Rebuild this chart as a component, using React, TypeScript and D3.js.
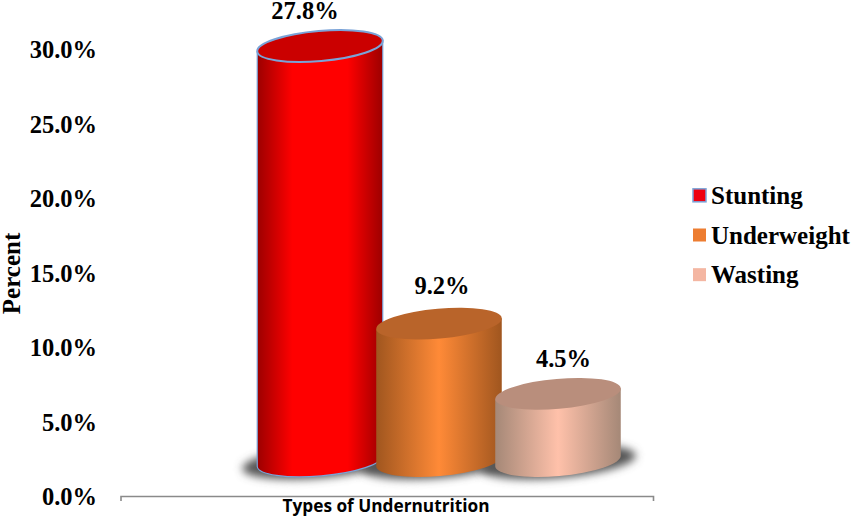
import * as React from 'react';
import {select as d3Select, scaleLinear as d3ScaleLinear, scaleBand as d3ScaleBand, axisLeft} from 'd3';

const categories = ['Stunting', 'Underweight', 'Wasting'];
const values = [27.8, 9.2, 4.5];
const valueLabels = ['27.8%', '9.2%', '4.5%'];
const yTicks = [0, 5, 10, 15, 20, 25, 30];
const sideEdge = ['#9c0000', '#a0561f', '#a58877'];
const sideLight = ['#ff0000', '#ff8a37', '#ffc1aa'];
const topColors = ['#cb0000', '#b9642a', '#b98e7c'];
const swatchColors = ['#ee0010', '#ed7d31', '#f4b6a2'];
const outlines = ['#7aa3d8', 'none', 'none'];
// Hand nudges for the value labels, the original placed them by eye
const labelDx = [-15, 3, 5.5];
const labelDy = [27, 30, 27];

const width = 851;
const height = 517;
const serif = '"Liberation Serif", serif';

export default function App() {
  const svgRef = React.useRef<SVGSVGElement>(null);

  React.useEffect(() => {
    const svg = d3Select(svgRef.current!);
    svg.selectAll('*').remove();

    const defs = svg.append('defs');
    defs.append('filter').attr('id', 'blur')
      .attr('x', '-30%').attr('y', '-80%').attr('width', '160%').attr('height', '260%')
      .append('feGaussianBlur').attr('stdDeviation', 4);
    categories.forEach((_, i) => {
      const grad = defs.append('linearGradient').attr('id', `side${i}`);
      grad.append('stop').attr('offset', '0%').attr('stop-color', sideEdge[i]);
      grad.append('stop').attr('offset', i === 0 ? '28%' : '50%').attr('stop-color', sideLight[i]);
      grad.append('stop').attr('offset', i === 0 ? '72%' : '50%').attr('stop-color', sideLight[i]);
      grad.append('stop').attr('offset', '100%').attr('stop-color', sideEdge[i]);
    });

    // Axis labels run on their own scale, the 3D floor sits above the axis
    const y = d3ScaleLinear().domain([0, 30]).range([497, 50]);
    const yBar = d3ScaleLinear().domain([0, 27.8]).range([461, 46]);
    const x = d3ScaleBand().domain(categories).range([260.5, 617.5]);

    const rx = 63;
    const ry = 15;
    const tilt = -5;
    const dx = rx * Math.cos(tilt * Math.PI / 180);
    const dy = rx * Math.sin(tilt * Math.PI / 180);

    // Y axis
    const yAxis = svg.append('g')
      .attr('transform', 'translate(97,0)')
      .call(axisLeft(y).tickValues(yTicks).tickSize(0).tickPadding(0).tickFormat((n) => `${(+n).toFixed(1)}%`));
    yAxis.select('.domain').remove();
    yAxis.selectAll('text')
      .attr('font-family', serif).attr('font-weight', 'bold').attr('font-size', 24.5).attr('fill', '#000');

    svg.append('text')
      .attr('transform', `translate(20,${y(15)}) rotate(-90)`)
      .attr('text-anchor', 'middle')
      .attr('font-family', serif).attr('font-weight', 'bold').attr('font-size', 25)
      .text('Percent');

    // X axis with its end ticks
    svg.append('path')
      .attr('d', 'M121,501V496.5H653.5V501')
      .attr('fill', 'none').attr('stroke', '#8a8a8a').attr('stroke-width', 1.6);
    svg.append('text')
      .attr('x', 386).attr('y', 512)
      .attr('text-anchor', 'middle')
      .attr('font-family', '"Open Sans", sans-serif').attr('font-weight', 'bold').attr('font-size', 17.5)
      .attr('textLength', 207).attr('lengthAdjust', 'spacingAndGlyphs')
      .text('Types of Undernutrition');

    // Shadows under the cylinders
    categories.forEach((c) => {
      svg.append('ellipse')
        .attr('cx', x(c)! + x.bandwidth() / 2)
        .attr('cy', yBar(0) + 1)
        .attr('rx', rx + 15)
        .attr('ry', ry + 1)
        .attr('transform', `rotate(${tilt},${x(c)! + x.bandwidth() / 2},${yBar(0)})`)
        .attr('fill', '#555')
        .attr('filter', 'url(#blur)');
    });

    // Cylinders
    categories.forEach((c, i) => {
      const cx = x(c)! + x.bandwidth() / 2;
      const top = yBar(values[i]);
      const base = yBar(0);
      svg.append('path')
        .attr('d', `M${cx - dx},${top - dy}L${cx - dx},${base - dy}` +
          `A${rx},${ry} ${tilt} 0 0 ${cx + dx},${base + dy}L${cx + dx},${top + dy}Z`)
        .attr('fill', `url(#side${i})`)
        .attr('stroke', outlines[i]).attr('stroke-width', 1.2);
      svg.append('ellipse')
        .attr('cx', cx).attr('cy', top).attr('rx', rx).attr('ry', ry)
        .attr('transform', `rotate(${tilt},${cx},${top})`)
        .attr('fill', topColors[i])
        .attr('stroke', outlines[i]).attr('stroke-width', 2);
      svg.append('text')
        .attr('x', cx + labelDx[i])
        .attr('y', top - labelDy[i])
        .attr('text-anchor', 'middle')
        .attr('font-family', serif).attr('font-weight', 'bold').attr('font-size', 24.5)
        .text(valueLabels[i]);
    });

    // Legend
    const legendY = d3ScaleBand().domain(categories).range([176, 295]);
    categories.forEach((c, i) => {
      const rowY = legendY(c)! + legendY.bandwidth() / 2;
      svg.append('rect')
        .attr('x', 693).attr('y', rowY - 7).attr('width', 13).attr('height', 13)
        .attr('fill', swatchColors[i])
        .attr('stroke', outlines[i]).attr('stroke-width', 1.5);
      svg.append('text')
        .attr('x', 711).attr('y', rowY + 8)
        .attr('font-family', serif).attr('font-weight', 'bold').attr('font-size', 25)
        .text(c);
    });
  }, []);

  return <svg ref={svgRef} width={width} height={height}
    style={{position: 'absolute', left: 0, top: 0, background: '#fff'}} />;
}
